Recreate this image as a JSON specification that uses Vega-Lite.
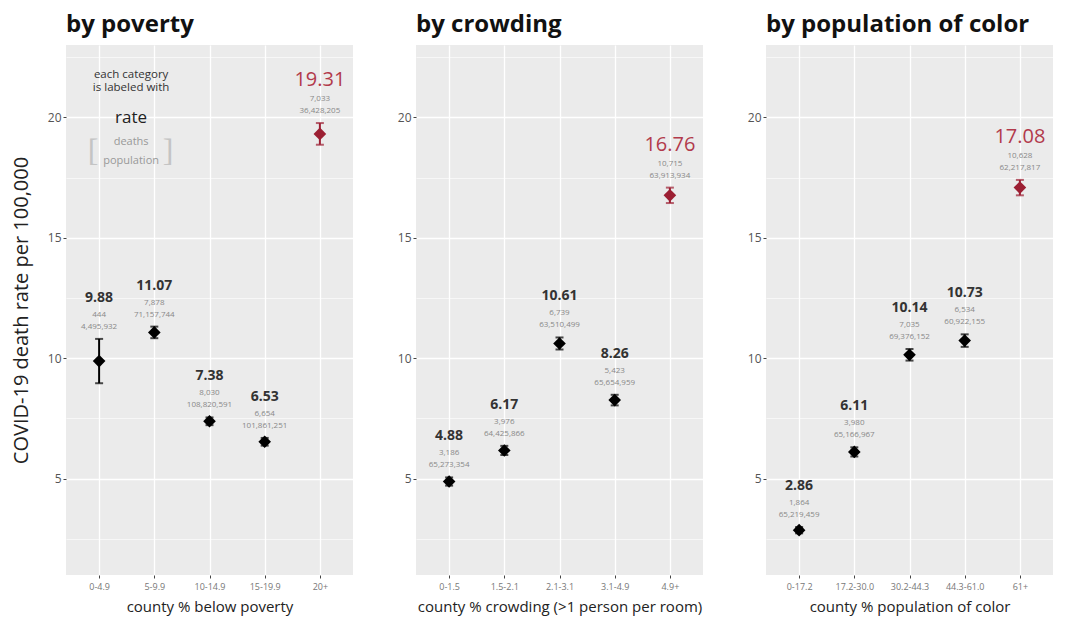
{
  "$schema": "https://vega.github.io/schema/vega-lite/v6.json",
  "background": "white",
  "padding": {"left": 11, "top": 13, "right": 5, "bottom": 5},
  "config": {
    "font": "Open Sans",
    "view": {"fill": "#EBEBEB", "stroke": null},
    "axis": {"gridColor": "#FFFFFF", "gridWidth": 1.3, "domain": false, "tickColor": "#444444", "tickSize": 3, "labelColor": "#555555", "titleColor": "#222222", "titleFontWeight": "normal", "labelFont": "Open Sans", "titleFont": "Open Sans"},
    "title": {"anchor": "start", "frame": "group", "fontSize": 24, "fontWeight": "bold", "color": "#111111", "offset": 8, "font": "Open Sans"}
  },
  "datasets": {
    "rates": [
      {"panel": "poverty", "cat": "0-4.9", "rate": 9.88, "lo": 8.96, "hi": 10.80, "deaths": 444, "pop": 4495932, "grp": "n"},
      {"panel": "poverty", "cat": "5-9.9", "rate": 11.07, "lo": 10.83, "hi": 11.31, "deaths": 7878, "pop": 71157744, "grp": "n"},
      {"panel": "poverty", "cat": "10-14.9", "rate": 7.38, "lo": 7.22, "hi": 7.54, "deaths": 8030, "pop": 108820591, "grp": "n"},
      {"panel": "poverty", "cat": "15-19.9", "rate": 6.53, "lo": 6.37, "hi": 6.69, "deaths": 6654, "pop": 101861251, "grp": "n"},
      {"panel": "poverty", "cat": "20+", "rate": 19.31, "lo": 18.86, "hi": 19.76, "deaths": 7033, "pop": 36428205, "grp": "h"},
      {"panel": "crowding", "cat": "0-1.5", "rate": 4.88, "lo": 4.71, "hi": 5.05, "deaths": 3186, "pop": 65273354, "grp": "n"},
      {"panel": "crowding", "cat": "1.5-2.1", "rate": 6.17, "lo": 5.98, "hi": 6.36, "deaths": 3976, "pop": 64425866, "grp": "n"},
      {"panel": "crowding", "cat": "2.1-3.1", "rate": 10.61, "lo": 10.36, "hi": 10.86, "deaths": 6739, "pop": 63510499, "grp": "n"},
      {"panel": "crowding", "cat": "3.1-4.9", "rate": 8.26, "lo": 8.04, "hi": 8.48, "deaths": 5423, "pop": 65654959, "grp": "n"},
      {"panel": "crowding", "cat": "4.9+", "rate": 16.76, "lo": 16.44, "hi": 17.08, "deaths": 10715, "pop": 63913934, "grp": "h"},
      {"panel": "color", "cat": "0-17.2", "rate": 2.86, "lo": 2.73, "hi": 2.99, "deaths": 1864, "pop": 65219459, "grp": "n"},
      {"panel": "color", "cat": "17.2-30.0", "rate": 6.11, "lo": 5.92, "hi": 6.30, "deaths": 3980, "pop": 65166967, "grp": "n"},
      {"panel": "color", "cat": "30.2-44.3", "rate": 10.14, "lo": 9.90, "hi": 10.38, "deaths": 7035, "pop": 69376152, "grp": "n"},
      {"panel": "color", "cat": "44.3-61.0", "rate": 10.73, "lo": 10.47, "hi": 10.99, "deaths": 6534, "pop": 60922155, "grp": "n"},
      {"panel": "color", "cat": "61+", "rate": 17.08, "lo": 16.76, "hi": 17.40, "deaths": 10628, "pop": 62217817, "grp": "h"}
    ]
  },
  "spacing": 44,
  "hconcat": [
    {
      "title": "by poverty",
      "width": 287, "height": 530,
      "data": {"name": "rates"},
      "transform": [{"filter": "datum.panel === 'poverty'"}],
      "encoding": {
        "x": {"field": "cat", "type": "ordinal", "sort": null,
              "scale": {"type": "point", "padding": 0.6, "domain": ["0-4.9", "5-9.9", "10-14.9", "15-19.9", "20+"]},
              "axis": {"title": "county % below poverty", "labelAngle": 0, "labelFontSize": 9, "labelColor": "#777777", "titleFontSize": 15, "titlePadding": 8, "labelPadding": 4, "grid": true}},
        "color": {"field": "grp", "type": "nominal", "scale": {"domain": ["n", "h"], "range": ["#000000", "#9C1F33"]}, "legend": null}
      },
      "layer": [
        {"mark": {"type": "rule", "strokeWidth": 2},
         "encoding": {"y": {"field": "lo", "type": "quantitative", "scale": {"domain": [1, 23], "nice": false, "zero": false},
                            "axis": {"orient": "right", "values": [2.5, 7.5, 12.5, 17.5, 22.5], "labels": false, "ticks": false, "domain": false, "title": null, "grid": true, "gridWidth": 0.6}},
                      "y2": {"field": "hi"}}},
        {"mark": {"type": "tick", "size": 8, "thickness": 2},
         "encoding": {"y": {"field": "lo", "type": "quantitative",
                            "axis": {"orient": "left", "values": [5, 10, 15, 20], "labelFontSize": 12, "title": "COVID-19 death rate per 100,000", "titleFontSize": 20, "titlePadding": 16, "grid": true}}}},
        {"mark": {"type": "tick", "size": 8, "thickness": 2},
         "encoding": {"y": {"field": "hi", "type": "quantitative", "axis": null}}},
        {"mark": {"type": "point", "shape": "diamond", "filled": true, "size": 160, "opacity": 1},
         "encoding": {"y": {"field": "rate", "type": "quantitative", "axis": null}}},
        {"transform": [{"filter": "datum.grp === 'n'"}],
         "mark": {"type": "text", "baseline": "alphabetic", "dy": -37, "fontSize": 14, "fontWeight": "bold"},
         "encoding": {"y": {"field": "hi", "type": "quantitative", "axis": null}, "text": {"field": "rate", "type": "quantitative", "format": ".2f"}, "color": {"value": "#333333"}}},
        {"transform": [{"filter": "datum.grp === 'h'"}],
         "mark": {"type": "text", "baseline": "alphabetic", "dy": -37, "fontSize": 20, "fontWeight": "normal"},
         "encoding": {"y": {"field": "hi", "type": "quantitative", "axis": null}, "text": {"field": "rate", "type": "quantitative", "format": ".2f"}, "color": {"value": "#B23A4B"}}},
        {"mark": {"type": "text", "baseline": "alphabetic", "dy": -22, "fontSize": 8},
         "encoding": {"y": {"field": "hi", "type": "quantitative", "axis": null}, "text": {"field": "deaths", "type": "quantitative", "format": ","}, "color": {"value": "#888888"}}},
        {"mark": {"type": "text", "baseline": "alphabetic", "dy": -10, "fontSize": 8},
         "encoding": {"y": {"field": "hi", "type": "quantitative", "axis": null}, "text": {"field": "pop", "type": "quantitative", "format": ","}, "color": {"value": "#888888"}}},
        {"data": {"values": [{}]},
         "mark": {"type": "text", "text": "each category", "dx": 32, "fontSize": 11.5, "fontWeight": 500},
         "encoding": {"x": {"datum": "0-4.9"}, "y": {"datum": 21.75, "type": "quantitative", "axis": null}, "color": {"value": "#333333"}}},
        {"data": {"values": [{}]},
         "mark": {"type": "text", "text": "is labeled with", "dx": 32, "fontSize": 11.5, "fontWeight": 500},
         "encoding": {"x": {"datum": "0-4.9"}, "y": {"datum": 21.2, "type": "quantitative", "axis": null}, "color": {"value": "#333333"}}},
        {"data": {"values": [{}]},
         "mark": {"type": "text", "text": "rate", "dx": 32, "fontSize": 17},
         "encoding": {"x": {"datum": "0-4.9"}, "y": {"datum": 19.96, "type": "quantitative", "axis": null}, "color": {"value": "#222222"}}},
        {"data": {"values": [{}]},
         "mark": {"type": "text", "text": "deaths", "dx": 32, "fontSize": 11},
         "encoding": {"x": {"datum": "0-4.9"}, "y": {"datum": 18.96, "type": "quantitative", "axis": null}, "color": {"value": "#999999"}}},
        {"data": {"values": [{}]},
         "mark": {"type": "text", "text": "population", "dx": 32, "fontSize": 11},
         "encoding": {"x": {"datum": "0-4.9"}, "y": {"datum": 18.2, "type": "quantitative", "axis": null}, "color": {"value": "#999999"}}},
        {"data": {"values": [{}]},
         "mark": {"type": "text", "text": "[", "dx": -6, "fontSize": 32, "font": "DejaVu Sans ExtraLight"},
         "encoding": {"x": {"datum": "0-4.9"}, "y": {"datum": 18.58, "type": "quantitative", "axis": null}, "color": {"value": "#C4C4C4"}}},
        {"data": {"values": [{}]},
         "mark": {"type": "text", "text": "]", "dx": 69, "fontSize": 32, "font": "DejaVu Sans ExtraLight"},
         "encoding": {"x": {"datum": "0-4.9"}, "y": {"datum": 18.58, "type": "quantitative", "axis": null}, "color": {"value": "#C4C4C4"}}}
      ],
      "resolve": {"axis": {"y": "independent"}}
    },
    {
      "title": "by crowding",
      "width": 287, "height": 530,
      "data": {"name": "rates"},
      "transform": [{"filter": "datum.panel === 'crowding'"}],
      "encoding": {
        "x": {"field": "cat", "type": "ordinal", "sort": null,
              "scale": {"type": "point", "padding": 0.6, "domain": ["0-1.5", "1.5-2.1", "2.1-3.1", "3.1-4.9", "4.9+"]},
              "axis": {"title": "county % crowding (>1 person per room)", "labelAngle": 0, "labelFontSize": 9, "labelColor": "#777777", "titleFontSize": 15, "titlePadding": 8, "labelPadding": 4, "grid": true}},
        "color": {"field": "grp", "type": "nominal", "scale": {"domain": ["n", "h"], "range": ["#000000", "#9C1F33"]}, "legend": null}
      },
      "layer": [
        {"mark": {"type": "rule", "strokeWidth": 2},
         "encoding": {"y": {"field": "lo", "type": "quantitative", "scale": {"domain": [1, 23], "nice": false, "zero": false},
                            "axis": {"orient": "right", "values": [2.5, 7.5, 12.5, 17.5, 22.5], "labels": false, "ticks": false, "domain": false, "title": null, "grid": true, "gridWidth": 0.6}},
                      "y2": {"field": "hi"}}},
        {"mark": {"type": "tick", "size": 8, "thickness": 2},
         "encoding": {"y": {"field": "lo", "type": "quantitative",
                            "axis": {"orient": "left", "values": [5, 10, 15, 20], "labelFontSize": 12, "title": null, "grid": true}}}},
        {"mark": {"type": "tick", "size": 8, "thickness": 2},
         "encoding": {"y": {"field": "hi", "type": "quantitative", "axis": null}}},
        {"mark": {"type": "point", "shape": "diamond", "filled": true, "size": 160, "opacity": 1},
         "encoding": {"y": {"field": "rate", "type": "quantitative", "axis": null}}},
        {"transform": [{"filter": "datum.grp === 'n'"}],
         "mark": {"type": "text", "baseline": "alphabetic", "dy": -37, "fontSize": 14, "fontWeight": "bold"},
         "encoding": {"y": {"field": "hi", "type": "quantitative", "axis": null}, "text": {"field": "rate", "type": "quantitative", "format": ".2f"}, "color": {"value": "#333333"}}},
        {"transform": [{"filter": "datum.grp === 'h'"}],
         "mark": {"type": "text", "baseline": "alphabetic", "dy": -37, "fontSize": 20, "fontWeight": "normal"},
         "encoding": {"y": {"field": "hi", "type": "quantitative", "axis": null}, "text": {"field": "rate", "type": "quantitative", "format": ".2f"}, "color": {"value": "#B23A4B"}}},
        {"mark": {"type": "text", "baseline": "alphabetic", "dy": -22, "fontSize": 8},
         "encoding": {"y": {"field": "hi", "type": "quantitative", "axis": null}, "text": {"field": "deaths", "type": "quantitative", "format": ","}, "color": {"value": "#888888"}}},
        {"mark": {"type": "text", "baseline": "alphabetic", "dy": -10, "fontSize": 8},
         "encoding": {"y": {"field": "hi", "type": "quantitative", "axis": null}, "text": {"field": "pop", "type": "quantitative", "format": ","}, "color": {"value": "#888888"}}}
      ],
      "resolve": {"axis": {"y": "independent"}}
    },
    {
      "title": "by population of color",
      "width": 287, "height": 530,
      "data": {"name": "rates"},
      "transform": [{"filter": "datum.panel === 'color'"}],
      "encoding": {
        "x": {"field": "cat", "type": "ordinal", "sort": null,
              "scale": {"type": "point", "padding": 0.6, "domain": ["0-17.2", "17.2-30.0", "30.2-44.3", "44.3-61.0", "61+"]},
              "axis": {"title": "county % population of color", "labelAngle": 0, "labelFontSize": 9, "labelColor": "#777777", "titleFontSize": 15, "titlePadding": 8, "labelPadding": 4, "grid": true}},
        "color": {"field": "grp", "type": "nominal", "scale": {"domain": ["n", "h"], "range": ["#000000", "#9C1F33"]}, "legend": null}
      },
      "layer": [
        {"mark": {"type": "rule", "strokeWidth": 2},
         "encoding": {"y": {"field": "lo", "type": "quantitative", "scale": {"domain": [1, 23], "nice": false, "zero": false},
                            "axis": {"orient": "right", "values": [2.5, 7.5, 12.5, 17.5, 22.5], "labels": false, "ticks": false, "domain": false, "title": null, "grid": true, "gridWidth": 0.6}},
                      "y2": {"field": "hi"}}},
        {"mark": {"type": "tick", "size": 8, "thickness": 2},
         "encoding": {"y": {"field": "lo", "type": "quantitative",
                            "axis": {"orient": "left", "values": [5, 10, 15, 20], "labelFontSize": 12, "title": null, "grid": true}}}},
        {"mark": {"type": "tick", "size": 8, "thickness": 2},
         "encoding": {"y": {"field": "hi", "type": "quantitative", "axis": null}}},
        {"mark": {"type": "point", "shape": "diamond", "filled": true, "size": 160, "opacity": 1},
         "encoding": {"y": {"field": "rate", "type": "quantitative", "axis": null}}},
        {"transform": [{"filter": "datum.grp === 'n'"}],
         "mark": {"type": "text", "baseline": "alphabetic", "dy": -37, "fontSize": 14, "fontWeight": "bold"},
         "encoding": {"y": {"field": "hi", "type": "quantitative", "axis": null}, "text": {"field": "rate", "type": "quantitative", "format": ".2f"}, "color": {"value": "#333333"}}},
        {"transform": [{"filter": "datum.grp === 'h'"}],
         "mark": {"type": "text", "baseline": "alphabetic", "dy": -37, "fontSize": 20, "fontWeight": "normal"},
         "encoding": {"y": {"field": "hi", "type": "quantitative", "axis": null}, "text": {"field": "rate", "type": "quantitative", "format": ".2f"}, "color": {"value": "#B23A4B"}}},
        {"mark": {"type": "text", "baseline": "alphabetic", "dy": -22, "fontSize": 8},
         "encoding": {"y": {"field": "hi", "type": "quantitative", "axis": null}, "text": {"field": "deaths", "type": "quantitative", "format": ","}, "color": {"value": "#888888"}}},
        {"mark": {"type": "text", "baseline": "alphabetic", "dy": -10, "fontSize": 8},
         "encoding": {"y": {"field": "hi", "type": "quantitative", "axis": null}, "text": {"field": "pop", "type": "quantitative", "format": ","}, "color": {"value": "#888888"}}}
      ],
      "resolve": {"axis": {"y": "independent"}}
    }
  ]
}
